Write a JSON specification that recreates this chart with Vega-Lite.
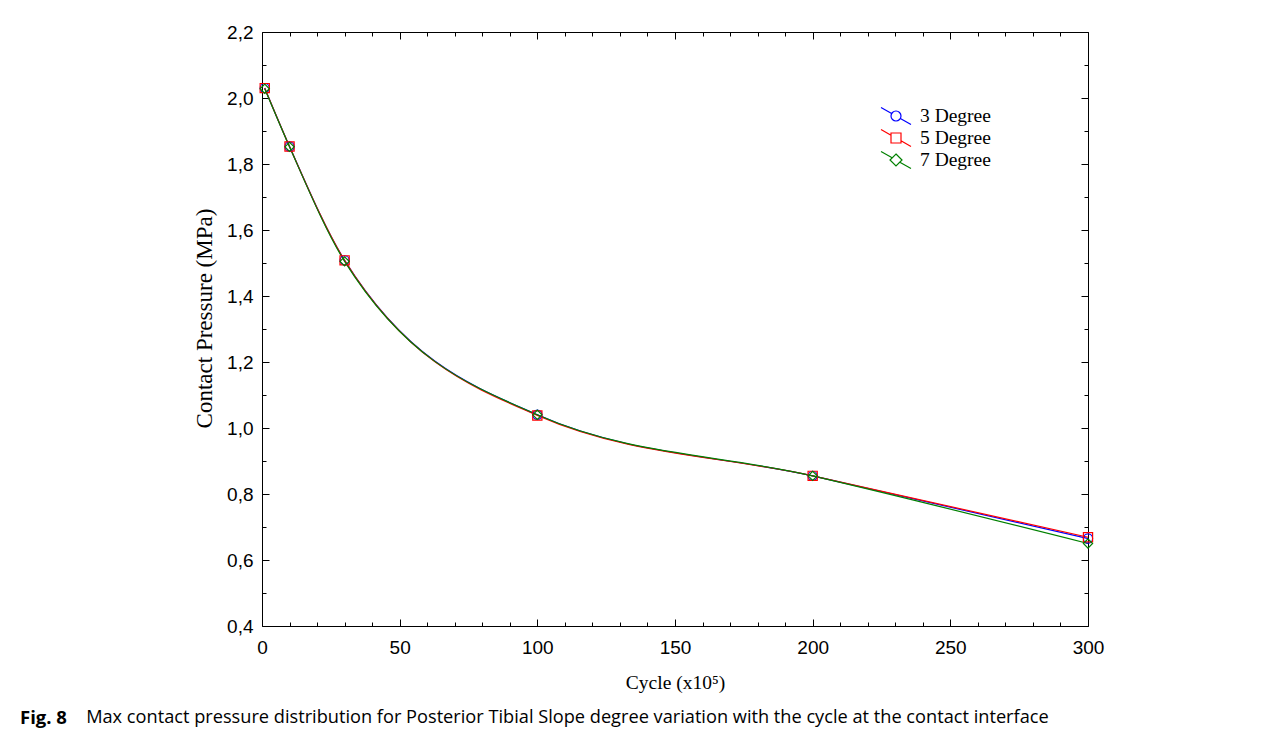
{
  "$schema": "https://vega.github.io/schema/vega-lite/v6.json",
  "width": 826,
  "height": 594,
  "autosize": {"type": "none"},
  "padding": {"left": 262, "top": 32, "right": 196, "bottom": 110},
  "background": "white",
  "config": {"view": {"stroke": "black", "strokeWidth": 1}, "font": "Liberation Sans"},
  "title": {
    "text": "Fig. 8",
    "subtitle": "\u200b\u00a0\u00a0\u00a0\u00a0\u00a0\u00a0\u00a0\u00a0\u00a0\u00a0\u00a0\u00a0\u00a0\u00a0Max contact pressure distribution for Posterior Tibial Slope degree variation with the cycle at the contact interface",
    "orient": "bottom",
    "anchor": "start",
    "frame": "group",
    "dx": -242,
    "offset": 17,
    "font": "Open Sans",
    "fontSize": 18.5,
    "fontWeight": "bold",
    "color": "black",
    "subtitleFont": "Open Sans",
    "subtitleFontSize": 18.2,
    "subtitleColor": "black",
    "subtitlePadding": -18.5
  },
  "datasets": {
    "d": [
      {"series": "3 Degree", "cycle": 1, "pressure": 2.03},
      {"series": "3 Degree", "cycle": 10, "pressure": 1.853},
      {"series": "3 Degree", "cycle": 30, "pressure": 1.508},
      {"series": "3 Degree", "cycle": 100, "pressure": 1.04},
      {"series": "3 Degree", "cycle": 200, "pressure": 0.855},
      {"series": "3 Degree", "cycle": 300, "pressure": 0.665},
      {"series": "5 Degree", "cycle": 1, "pressure": 2.03},
      {"series": "5 Degree", "cycle": 10, "pressure": 1.853},
      {"series": "5 Degree", "cycle": 30, "pressure": 1.508},
      {"series": "5 Degree", "cycle": 100, "pressure": 1.038},
      {"series": "5 Degree", "cycle": 200, "pressure": 0.855},
      {"series": "5 Degree", "cycle": 300, "pressure": 0.669},
      {"series": "7 Degree", "cycle": 1, "pressure": 2.028},
      {"series": "7 Degree", "cycle": 10, "pressure": 1.852},
      {"series": "7 Degree", "cycle": 30, "pressure": 1.505},
      {"series": "7 Degree", "cycle": 100, "pressure": 1.04},
      {"series": "7 Degree", "cycle": 200, "pressure": 0.855},
      {"series": "7 Degree", "cycle": 300, "pressure": 0.65}
    ]
  },
  "data": {"name": "d"},
  "resolve": {"axis": {"x": "independent", "y": "independent"}, "legend": {"color": "independent"}},
  "layer": [
    {
      "mark": {"type": "line", "interpolate": "monotone", "strokeWidth": 1.2},
      "encoding": {
        "x": {
          "field": "cycle", "type": "quantitative",
          "scale": {"domain": [0, 300], "nice": false, "zero": false},
          "axis": {
            "orient": "bottom",
            "values": [0, 10, 20, 30, 40, 50, 60, 70, 80, 90, 100, 110, 120, 130, 140, 150, 160, 170, 180, 190, 200, 210, 220, 230, 240, 250, 260, 270, 280, 290, 300],
            "labelExpr": "datum.value % 50 == 0 ? format(datum.value, 'd') : ''",
            "domain": false,
            "grid": false,
            "tickSize": -7,
            "tickColor": "black",
            "tickWidth": 1,
            "tickDash": {"condition": {"test": "datum.value % 50 != 0", "value": [4, 20]}, "value": [10, 0]},
            "labelFont": "Liberation Sans",
            "labelFontSize": 19,
            "labelColor": "black",
            "labelPadding": 19,
            "labelFlush": false,
            "labelOverlap": false,
            "title": "Cycle (x10\u2075)",
            "titleFont": "Liberation Serif",
            "titleFontSize": 19.5,
            "titleFontWeight": "normal",
            "titleColor": "black",
            "titlePadding": 16
          }
        },
        "y": {
          "field": "pressure", "type": "quantitative",
          "scale": {"domain": [0.4, 2.2], "nice": false, "zero": false},
          "axis": {
            "orient": "left",
            "values": [0.4, 0.5, 0.6, 0.7, 0.8, 0.9, 1.0, 1.1, 1.2, 1.3, 1.4, 1.5, 1.6, 1.7, 1.8, 1.9, 2.0, 2.1, 2.2],
            "labelExpr": "round(datum.value * 10) % 2 == 0 ? replace(format(datum.value, '.1f'), '.', ',') : ''",
            "domain": false,
            "grid": false,
            "tickSize": -7,
            "tickColor": "black",
            "tickWidth": 1,
            "tickDash": {"condition": {"test": "round(datum.value * 10) % 2 != 0", "value": [4, 20]}, "value": [10, 0]},
            "labelFont": "Liberation Sans",
            "labelFontSize": 19,
            "labelColor": "black",
            "labelPadding": 16,
            "labelFlush": false,
            "labelOverlap": false,
            "title": "Contact Pressure (MPa)",
            "titleFont": "Liberation Serif",
            "titleFontSize": 23,
            "titleFontWeight": "normal",
            "titleColor": "black",
            "titlePadding": 10,
            "titleY": 286
          }
        },
        "color": {
          "field": "series", "type": "nominal",
          "scale": {"domain": ["3 Degree", "5 Degree", "7 Degree"], "range": ["#0000FF", "#FF0000", "#008000"]},
          "legend": null
        }
      }
    },
    {
      "mark": {"type": "point", "filled": false, "size": 85, "strokeWidth": 1.2, "opacity": 1},
      "encoding": {
        "x": {
          "field": "cycle", "type": "quantitative",
          "axis": {
            "orient": "top",
            "values": [0, 10, 20, 30, 40, 50, 60, 70, 80, 90, 100, 110, 120, 130, 140, 150, 160, 170, 180, 190, 200, 210, 220, 230, 240, 250, 260, 270, 280, 290, 300],
            "labels": false,
            "domain": false,
            "grid": false,
            "tickSize": -7,
            "tickColor": "black",
            "tickWidth": 1,
            "tickDash": {"condition": {"test": "datum.value % 50 != 0", "value": [4, 20]}, "value": [10, 0]},
            "title": null
          }
        },
        "y": {
          "field": "pressure", "type": "quantitative",
          "axis": {
            "orient": "right",
            "values": [0.4, 0.5, 0.6, 0.7, 0.8, 0.9, 1.0, 1.1, 1.2, 1.3, 1.4, 1.5, 1.6, 1.7, 1.8, 1.9, 2.0, 2.1, 2.2],
            "labels": false,
            "domain": false,
            "grid": false,
            "tickSize": -7,
            "tickColor": "black",
            "tickWidth": 1,
            "tickDash": {"condition": {"test": "round(datum.value * 10) % 2 != 0", "value": [4, 20]}, "value": [10, 0]},
            "title": null
          }
        },
        "color": {
          "field": "series", "type": "nominal",
          "legend": {
            "title": null,
            "orient": "none",
            "legendX": 623,
            "legendY": 73,
            "padding": 0,
            "symbolSize": 400,
            "symbolStrokeWidth": 1.2,
            "symbolFillColor": "transparent",
            "symbolType": {"expr": "datum.value === '3 Degree' ? 'M-1.5,-0.85L-0.435,-0.247M0.435,0.247L1.5,0.85M0.5,0A0.5,0.5,0,1,1,-0.5,0A0.5,0.5,0,1,1,0.5,0Z' : datum.value === '5 Degree' ? 'M-1.5,-0.85L-0.5,-0.283M0.5,0.283L1.5,0.85M-0.5,-0.5L0.5,-0.5L0.5,0.5L-0.5,0.5Z' : 'M-1.5,-0.85L-0.385,-0.218M0.385,0.218L1.5,0.85M0,-0.6L0.6,0L0,0.6L-0.6,0Z'"},
            "labelFont": "Liberation Serif",
            "labelFontSize": 19.5,
            "labelColor": "black",
            "labelOffset": 13,
            "rowPadding": -1
          }
        },
        "shape": {
          "field": "series", "type": "nominal",
          "scale": {"domain": ["3 Degree", "5 Degree", "7 Degree"], "range": ["circle", "square", "diamond"]},
          "legend": null
        }
      }
    }
  ]
}
